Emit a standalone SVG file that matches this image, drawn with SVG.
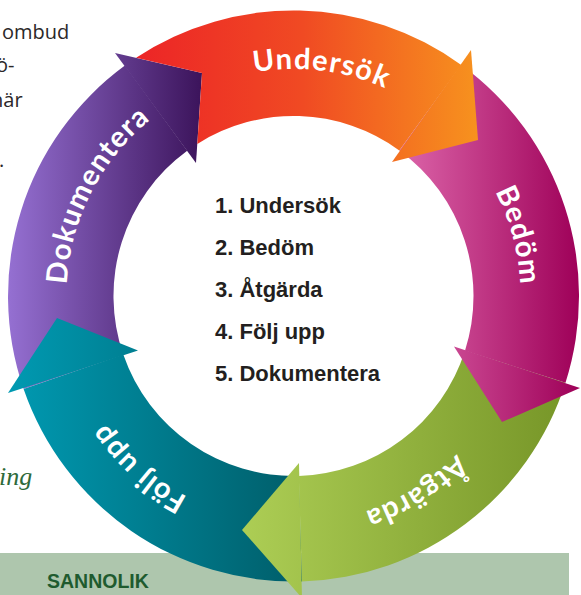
<svg xmlns="http://www.w3.org/2000/svg" width="581" height="595" viewBox="0 0 581 595">
  <style>
    .page { font-family: "Open Sans", "Noto Sans", sans-serif; font-size: 20px; fill: #2b2829; }
    .lbl { font-family: Lato, "Open Sans", sans-serif; font-weight: 700; font-size: 29px; fill: #ffffff; letter-spacing: 1.2px; }
    .step { font-family: "Liberation Sans", Arial, sans-serif; font-weight: 700; font-size: 22px; fill: #231f20; }
    .band-title { font-family: "Liberation Sans", Arial, sans-serif; font-weight: 700; font-size: 19.5px; fill: #1f5b2f; }
  </style>
  <defs>
    <linearGradient id="gU" gradientUnits="userSpaceOnUse" x1="125" y1="0" x2="480" y2="0">
      <stop offset="0" stop-color="#ec2227"/>
      <stop offset="0.5" stop-color="#f04a23"/>
      <stop offset="1" stop-color="#f7931e"/>
    </linearGradient>
    <linearGradient id="gB" gradientUnits="userSpaceOnUse" x1="395" y1="0" x2="580" y2="0">
      <stop offset="0" stop-color="#de68ac"/>
      <stop offset="1" stop-color="#9e0058"/>
    </linearGradient>
    <linearGradient id="gA" gradientUnits="userSpaceOnUse" x1="240" y1="0" x2="566" y2="0">
      <stop offset="0" stop-color="#adce55"/>
      <stop offset="1" stop-color="#779628"/>
    </linearGradient>
    <linearGradient id="gF" gradientUnits="userSpaceOnUse" x1="8" y1="0" x2="302" y2="0">
      <stop offset="0" stop-color="#009ab2"/>
      <stop offset="1" stop-color="#005d69"/>
    </linearGradient>
    <linearGradient id="gD" gradientUnits="userSpaceOnUse" x1="8" y1="0" x2="205" y2="0">
      <stop offset="0" stop-color="#9570d2"/>
      <stop offset="1" stop-color="#3a1259"/>
    </linearGradient>
    <!-- clockwise baseline arcs (r = 227) for the ring labels -->
    <path id="arcU" d="M153.7,117.1 A227,227 0 0 1 472.4,156.2"/>
    <path id="arcB" d="M407.0,99.4 A227,227 0 0 1 490.1,409.5"/>
    <path id="arcA" d="M514.7,347.1 A227,227 0 0 1 242.4,517.2"/>
    <path id="arcF" d="M305.4,522.7 A227,227 0 0 1 66.8,307.9"/>
    <path id="arcD" d="M77.6,366.1 A227,227 0 0 1 223.4,80.1"/>
  </defs>

  <rect x="0" y="0" width="581" height="595" fill="#ffffff"/>

  <!-- surrounding page text -->
  <g id="page-text">
    <text class="page" x="2" y="39">ombud</text>
    <text class="page" x="-4" y="72">ö-</text>
    <text class="page" x="-9" y="107">när</text>
    <text class="page" x="-1" y="167">.</text>
    <text x="-1" y="485" font-family="'Liberation Serif', serif" font-style="italic" font-size="26" fill="#2e6a3b">ing</text>
  </g>

  <!-- bottom band -->
  <g id="band">
    <rect x="0" y="553" width="569" height="42" fill="#aec6ad"/>
    <text class="band-title" x="47" y="588">SANNOLIK</text>
  </g>

  <!-- cycle ring: each step is an arc body plus arrowhead -->
  <g id="step-dokumentera">
    <path d="M23.6,389.0 A285.5,285.5 0 0 1 124.9,65.6 L187.2,150.7 A180,180 0 0 0 123.3,354.6 Z" fill="url(#gD)"/>
    <polygon points="115,53 202,73 196,163" fill="url(#gD)"/>
    <text class="lbl"><textPath href="#arcD" startOffset="50%" text-anchor="middle">Dokumentera</textPath></text>
  </g>

  <g id="step-folj-upp">
    <path d="M302.0,581.4 A285.5,285.5 0 0 1 23.6,389.0 L123.3,354.6 A180,180 0 0 0 298.8,475.9 Z" fill="url(#gF)"/>
    <polygon points="8,393 57,318 138,350.5" fill="url(#gF)"/>
    <text class="lbl"><textPath href="#arcF" startOffset="50%" text-anchor="middle">Följ upp</textPath></text>
  </g>

  <g id="step-atgarda">
    <path d="M565.5,382.8 A285.5,285.5 0 0 1 302.0,581.4 L298.8,475.9 A180,180 0 0 0 465.0,350.7 Z" fill="url(#gA)"/>
    <polygon points="299,463 242,530 302,598" fill="url(#gA)"/>
    <text class="lbl"><textPath href="#arcA" startOffset="50%" text-anchor="middle">Åtgärda</textPath></text>
  </g>

  <g id="step-bedom">
    <path d="M461.3,65.0 A285.5,285.5 0 0 1 565.5,382.8 L465.0,350.7 A180,180 0 0 0 399.3,150.4 Z" fill="url(#gB)"/>
    <polygon points="580,388 502,422 454,346.5" fill="url(#gB)"/>
    <text class="lbl"><textPath href="#arcB" startOffset="50%" text-anchor="middle">Bedöm</textPath></text>
  </g>

  <g id="step-undersok">
    <!-- start edge follows the Dokumentera arrowhead -->
    <path d="M136.1,57.8 A285.5,285.5 0 0 1 461.3,65.0 L399.3,150.4 A180,180 0 0 0 197.3,143.9 L202,73 Z" fill="url(#gU)"/>
    <polygon points="471,50 478,140 392,162" fill="url(#gU)"/>
    <text class="lbl"><textPath href="#arcU" startOffset="50%" text-anchor="middle">Undersök</textPath></text>
  </g>

  <!-- numbered list in the middle -->
  <g id="step-list">
    <text class="step" x="215" y="213">1. Undersök</text>
    <text class="step" x="215" y="255">2. Bedöm</text>
    <text class="step" x="215" y="297">3. Åtgärda</text>
    <text class="step" x="215" y="339">4. Följ upp</text>
    <text class="step" x="215" y="381">5. Dokumentera</text>
  </g>
</svg>
